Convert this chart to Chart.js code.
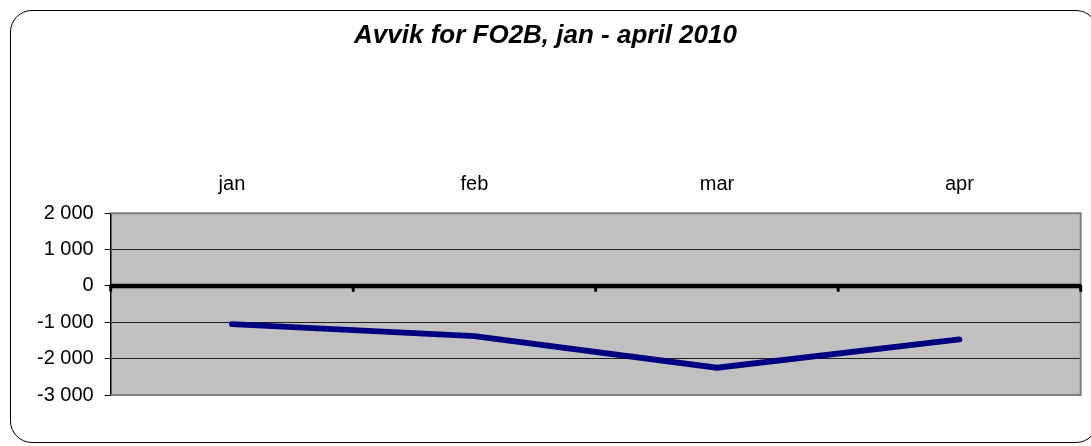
<!DOCTYPE html>
<html>
<head>
<meta charset="utf-8">
<script src="https://cdn.jsdelivr.net/npm/chart.js@4.4.1/dist/chart.umd.min.js"></script>
<style>
  html, body { margin: 0; padding: 0; background: #fff; }
  #wrap { position: relative; width: 1091px; height: 446px; overflow: hidden; }
  #frame { position: absolute; left: 10px; top: 10px; width: 1088px; height: 433px;
           border: 1.5px solid #000; border-radius: 22px; box-sizing: border-box; }
  canvas { position: absolute; left: 0; top: 0; }
</style>
</head>
<body>
<div id="wrap">
  <div id="frame"></div>
  <canvas id="c" width="1091" height="446"></canvas>
</div>
<script>
const titleText = 'Avvik for FO2B, jan - april 2010';
const categories = ['jan', 'feb', 'mar', 'apr'];
const avvik = [-1050, -1380, -2250, -1470];
const yMin = -3000;
const yMax = 2000;
const yStep = 1000;

const FONT = '"Liberation Sans", Arial, sans-serif';

function fmt(v) {
  const s = Math.abs(v).toString().replace(/\B(?=(\d{3})+(?!\d))/g, ' ');
  return (v < 0 ? '-' : '') + s;
}

const plotDeco = {
  id: 'plotDeco',
  beforeDraw(chart) {
    const { ctx, chartArea: a } = chart;
    ctx.save();
    ctx.fillStyle = '#C0C0C0';
    ctx.fillRect(a.left, a.top, a.right - a.left, a.bottom - a.top);
    ctx.restore();
  },
  beforeDatasetsDraw(chart) {
    const { ctx, chartArea: a, scales } = chart;
    const x = scales.x, y = scales.y;
    ctx.save();
    ctx.strokeStyle = '#808080';
    ctx.lineWidth = 2;
    ctx.beginPath();
    ctx.moveTo(a.left, a.top);
    ctx.lineTo(a.right, a.top);
    ctx.lineTo(a.right, a.bottom);
    ctx.lineTo(a.left, a.bottom);
    ctx.stroke();
    const y0 = y.getPixelForValue(0);
    ctx.strokeStyle = '#000';
    ctx.lineWidth = 4.5;
    ctx.lineCap = 'butt';
    ctx.beginPath();
    ctx.moveTo(a.left, y0);
    ctx.lineTo(a.right, y0);
    ctx.stroke();
    const half = (x.getPixelForValue(1) - x.getPixelForValue(0)) / 2;
    ctx.lineWidth = 3;
    ctx.lineCap = 'round';
    for (let i = 0; i <= categories.length; i++) {
      const px = x.getPixelForValue(Math.min(i, categories.length - 1)) + (i === categories.length ? half : -half);
      ctx.beginPath();
      ctx.moveTo(px, y0);
      ctx.lineTo(px, y0 + 4.5);
      ctx.stroke();
    }
    ctx.restore();
  }
};

new Chart(document.getElementById('c'), {
  type: 'line',
  data: {
    labels: categories,
    datasets: [{
      data: avvik,
      borderColor: '#000080',
      backgroundColor: '#000080',
      borderWidth: 5.8,
      borderCapStyle: 'round',
      borderJoinStyle: 'miter',
      pointRadius: 0,
      tension: 0,
      fill: false
    }]
  },
  options: {
    responsive: false,
    animation: false,
    devicePixelRatio: 1,
    layout: { padding: { left: 0, right: 0, top: 0, bottom: 51 } },
    plugins: {
      legend: { display: false },
      tooltip: { enabled: false },
      title: {
        display: true,
        text: titleText,
        color: '#000',
        font: { family: FONT, size: 26, weight: 'bold', style: 'italic' },
        padding: { top: 20, bottom: 0 }
      }
    },
    scales: {
      x: {
        position: 'top',
        offset: true,
        grid: { display: false, drawTicks: false },
        border: { display: false },
        ticks: { color: '#000', font: { family: FONT, size: 20 }, padding: 17, maxRotation: 0 },
        afterFit(s) { s.height = 213.3 - 51.2; }
      },
      y: {
        min: yMin,
        max: yMax,
        grid: {
          color: (c) => {
            const v = c.tick && c.tick.value;
            return (v === 0 || v === yMin || v === yMax) ? 'rgba(0,0,0,0)' : '#202020';
          },
          lineWidth: 1,
          tickColor: '#000',
          tickLength: 6
        },
        border: { display: true, color: '#000', width: 1.5 },
        ticks: {
          stepSize: yStep,
          color: '#000',
          font: { family: FONT, size: 20 },
          padding: 11,
          callback: (v) => fmt(v)
        },
        afterFit(s) { s.width = 110.7; }
      },
      yRight: {
        position: 'right',
        display: true,
        grid: { display: false, drawTicks: false },
        border: { display: false },
        ticks: { display: false },
        afterFit(s) { s.width = 10.3; }
      }
    }
  },
  plugins: [plotDeco]
});
</script>
</body>
</html>
